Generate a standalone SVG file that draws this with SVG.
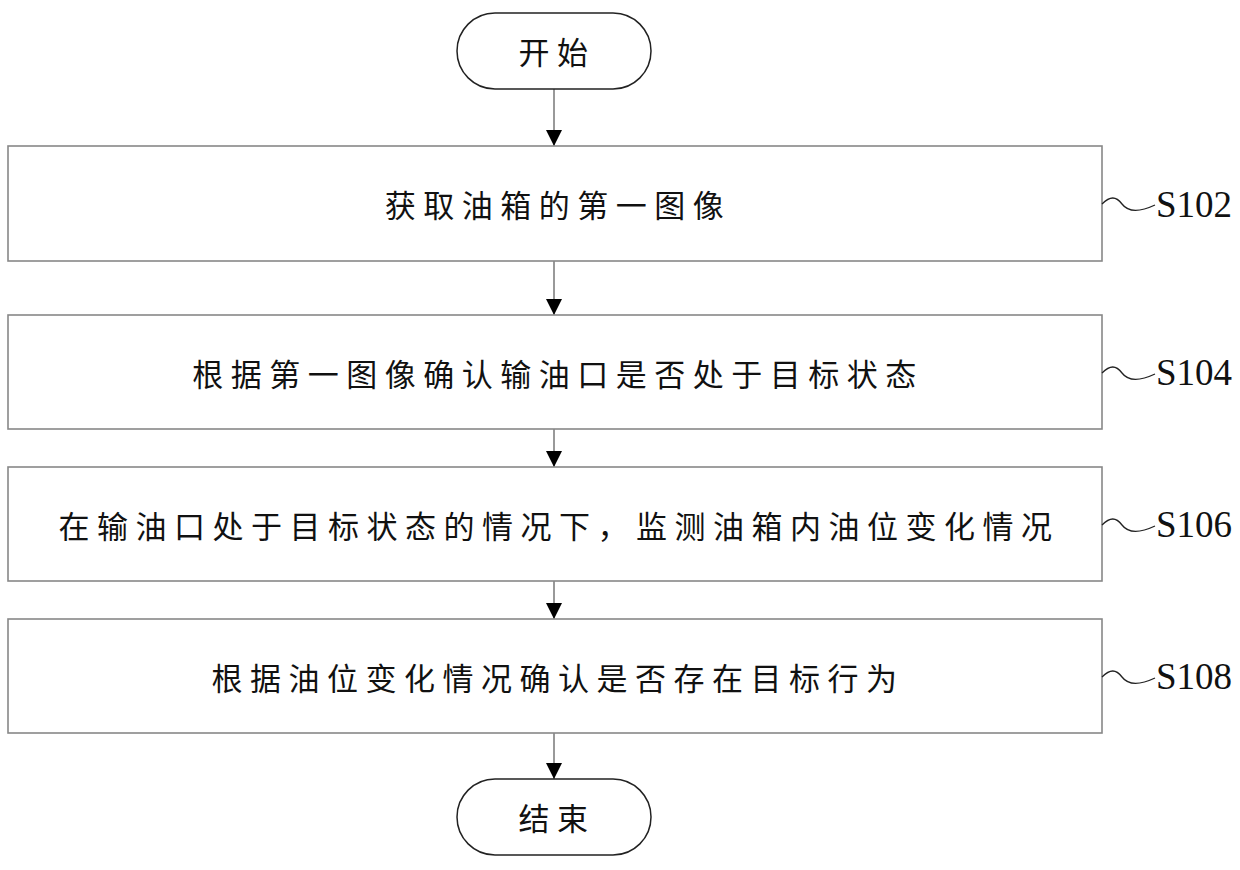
<svg xmlns="http://www.w3.org/2000/svg" width="1240" height="870" viewBox="0 0 1240 870">
<style>
.term{fill:#fff;stroke:#222;stroke-width:1.5}
.box{fill:#fff;stroke:#888;stroke-width:1.6}
.t{font-family:"Noto Sans CJK SC","Noto Sans CJK JP",sans-serif;font-size:31px;letter-spacing:7.5px;text-anchor:middle;dominant-baseline:central;fill:#111}
.lbl{font-family:"Liberation Serif",serif;font-size:37px;fill:#111;dominant-baseline:central}
.conn{stroke:#999;stroke-width:2;fill:none}
.sq{stroke:#222;stroke-width:1.3;fill:none}
</style>
<defs>
<marker id="ah" markerWidth="16" markerHeight="16" refX="16" refY="8" orient="auto" markerUnits="userSpaceOnUse">
<path d="M0,0 L16,8 L0,16 Z" fill="#000"/>
</marker>
</defs>
<g id="connectors">
<line class="conn" x1="554" y1="89" x2="554" y2="146" marker-end="url(#ah)"/>
<line class="conn" x1="554" y1="261" x2="554" y2="315" marker-end="url(#ah)"/>
<line class="conn" x1="554" y1="429" x2="554" y2="467" marker-end="url(#ah)"/>
<line class="conn" x1="554" y1="581" x2="554" y2="619" marker-end="url(#ah)"/>
<line class="conn" x1="554" y1="733" x2="554" y2="779" marker-end="url(#ah)"/>
</g>
<g id="start">
<rect class="term" x="457" y="13" width="194" height="76" rx="38" ry="38"/>
<text class="t" x="557" y="50">开始</text>
</g>
<g id="s102">
<rect class="box" x="8" y="146" width="1094" height="115"/>
<text class="t" x="558" y="203">获取油箱的第一图像</text>
<path class="sq" d="M1102,204 C1110,196 1116,196 1122,204 C1128,212 1140,212 1155,205"/>
<text class="lbl" x="1156" y="204">S102</text>
</g>
<g id="s104">
<rect class="box" x="8" y="315" width="1094" height="114"/>
<text class="t" x="558" y="372">根据第一图像确认输油口是否处于目标状态</text>
<path class="sq" d="M1102,373 C1110,365 1116,365 1122,373 C1128,381 1140,381 1155,374"/>
<text class="lbl" x="1156" y="372">S104</text>
</g>
<g id="s106">
<rect class="box" x="8" y="467" width="1094" height="114"/>
<text class="t" x="559" y="524">在输油口处于目标状态的情况下，监测油箱内油位变化情况</text>
<path class="sq" d="M1102,525 C1110,517 1116,517 1122,525 C1128,533 1140,533 1155,526"/>
<text class="lbl" x="1156" y="524">S106</text>
</g>
<g id="s108">
<rect class="box" x="8" y="619" width="1094" height="114"/>
<text class="t" x="558" y="676">根据油位变化情况确认是否存在目标行为</text>
<path class="sq" d="M1102,677 C1110,669 1116,669 1122,677 C1128,685 1140,685 1155,678"/>
<text class="lbl" x="1156" y="676">S108</text>
</g>
<g id="end">
<rect class="term" x="457" y="779" width="194" height="76" rx="38" ry="38"/>
<text class="t" x="557" y="816">结束</text>
</g>
</svg>
